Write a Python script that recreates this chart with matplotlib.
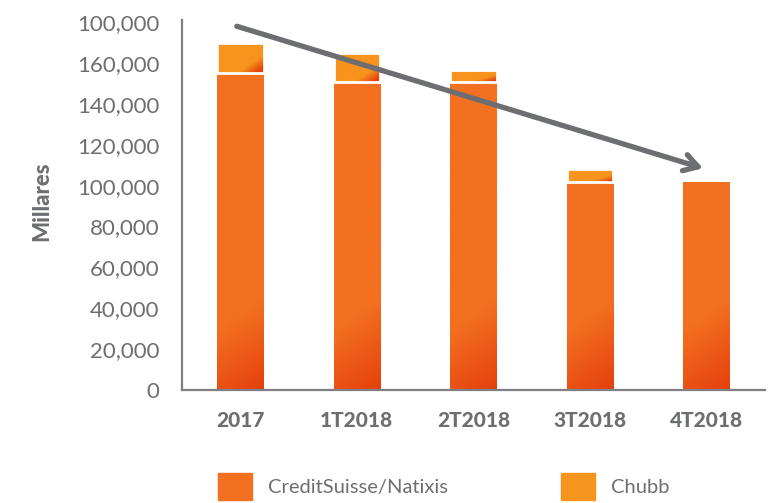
import numpy as np
import matplotlib.pyplot as plt
from matplotlib.colors import LinearSegmentedColormap
from matplotlib.patches import Rectangle

categories = ["2017", "1T2018", "2T2018", "3T2018", "4T2018"]
credit_natixis = [155000, 150500, 150500, 102000, 102000]
chubb = [15000, 14500, 6000, 6000, 0]
y_ticks = list(range(0, 180001, 20000))
y_tick_labels = ["0", "20,000", "40,000", "60,000", "80,000", "100,000",
                 "120,000", "140,000", "160,000", "100,000"]

GRAY = "#6d6e71"
ORANGE = "#f37021"
LIGHT = "#f7941d"
RED = "#e5400c"

plt.rcParams["font.family"] = ["Lato", "DejaVu Sans"]

fig = plt.figure(figsize=(7.71, 5.03), dpi=100)
ax = fig.add_axes([0.236, 0.2247, 0.756, 0.7353])

x = np.arange(len(categories))
width = 0.4
cs_bars = ax.bar(x, credit_natixis, width, color=ORANGE, linewidth=0, zorder=2)
ch_bars = ax.bar(x, chubb, width, bottom=credit_natixis, color=LIGHT, linewidth=0, zorder=2)

cmap_cs = LinearSegmentedColormap.from_list("cs", [ORANGE, RED])
cmap_ch = LinearSegmentedColormap.from_list("ch", [LIGHT, LIGHT, RED])

# diagonal shading, like the original fill
gx, gy = np.meshgrid(np.linspace(0, 1, 60), np.linspace(0, 1, 300))
for bar in cs_bars:
    h = bar.get_height()
    fade = 45000 / h
    t = np.clip(1 - gy / fade - 0.35 * (1 - gx), 0, 1)
    img = ax.imshow(t, cmap=cmap_cs, vmin=0, vmax=1, origin="lower", aspect="auto",
                    extent=(bar.get_x(), bar.get_x() + bar.get_width(), 0, h), zorder=2.5)
    img.set_clip_path(bar)

for bar in ch_bars:
    h = bar.get_height()
    if h <= 0:
        continue
    y0 = bar.get_y()
    t = np.clip((gx + (1 - gy) - 1.0) * 1.2, 0, 1)
    img = ax.imshow(t, cmap=cmap_ch, vmin=0, vmax=1, origin="lower", aspect="auto",
                    extent=(bar.get_x(), bar.get_x() + bar.get_width(), y0, y0 + h), zorder=2.5)
    img.set_clip_path(bar)

# white gap between the two segments
keep = [i for i in x if chubb[i] > 0]
ax.bar(keep, [chubb[i] for i in keep], width,
       bottom=[credit_natixis[i] for i in keep],
       facecolor="none", edgecolor="white", linewidth=2, zorder=3)

# trend arrow
ax.annotate("", xy=(3.97, 108500), xytext=(-0.03, 178000),
            arrowprops=dict(arrowstyle="->,head_length=1.0,head_width=0.6",
                            color=GRAY, lw=3.8, shrinkA=0, shrinkB=0),
            zorder=5)

ax.set_xlim(-0.5, 4.5)
ax.set_ylim(0, 181000)
ax.set_yticks(y_ticks)
ax.set_yticklabels(y_tick_labels)
ax.set_xticks(x)
ax.set_xticklabels(categories, fontweight="black")
ax.tick_params(axis="y", length=0, pad=16, labelsize=16, labelcolor=GRAY)
ax.tick_params(axis="x", length=0, pad=15, labelsize=15, labelcolor=GRAY)
for side in ("top", "right"):
    ax.spines[side].set_visible(False)
for side in ("left", "bottom"):
    ax.spines[side].set_color("#7f7f84")
    ax.spines[side].set_linewidth(1.6)
ax.set_ylabel("Millares", fontsize=16, fontweight="black", color=GRAY)
ax.yaxis.set_label_coords(-0.222, 0.51)

handles = [Rectangle((0, 0), 1, 1, color=ORANGE), Rectangle((0, 0), 1, 1, color=LIGHT)]
fig.legend(handles, ["CreditSuisse/Natixis", "Chubb"], loc="lower left",
           bbox_to_anchor=(0.259, -0.03), ncol=2, frameon=False, fontsize=14.5,
           handlelength=1.7, handleheight=1.7, handletextpad=0.8, columnspacing=5.6,
           labelcolor=GRAY)

fig.savefig("out.png", dpi=100)
